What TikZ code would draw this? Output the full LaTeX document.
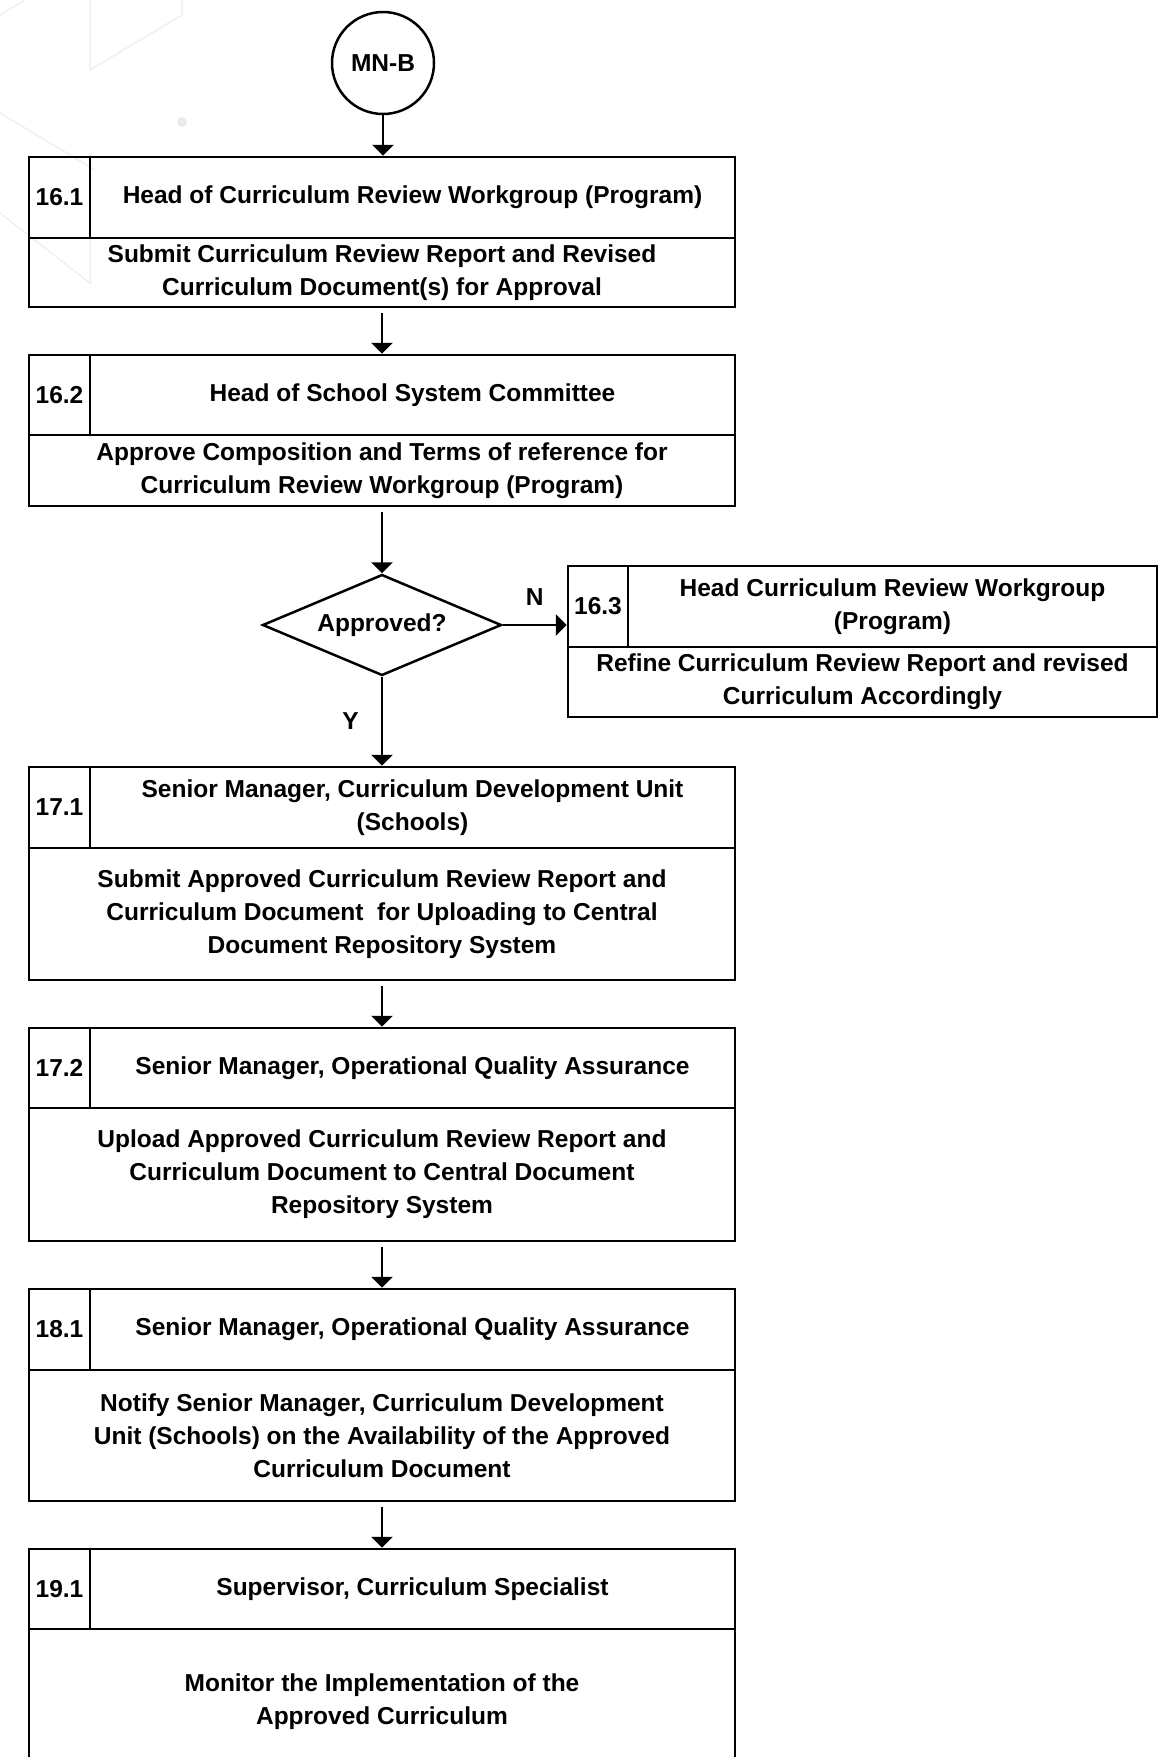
\documentclass[tikz,border=0pt]{standalone}
\usepackage{fontspec}
\setmainfont{Liberation Sans}
\usetikzlibrary{shapes.geometric, arrows.meta}

\begin{document}
\begin{tikzpicture}[x=1pt, y=-1pt, line width=2.5pt,
    every node/.style={font=\bfseries\fontsize{24.5}{33}\selectfont, align=center, inner sep=0pt},
    numcell/.style={draw, minimum width=61pt, minimum height=#1},
    headcell/.style={draw, minimum width=645pt, minimum height=#1},
    taskcell/.style={draw, minimum width=706pt, minimum height=#1},
    flow/.style={-{Triangle[width=21pt, length=11pt]}},
    backline/.style={gray!12, line width=1.5pt}]

     \useasboundingbox (0,0) rectangle (1169,1757);
     \clip (0,0) rectangle (1169,1757);

     % faint background
     \draw [backline] (0,15) -- (25,0);
     \draw [backline] (90,0) -- (90,70) -- (182,15) -- (182,0);
     \fill [gray!15] (182,122) circle (5);
     \draw [backline] (0,113) -- (95,170);
     \draw [backline] (0,213) -- (90,283) -- (90,233);

     \node (start) at (383,63) [draw, circle, minimum size=102pt] {MN-B};

     \node (num161) at (59.5,197.5) [numcell=81pt] {16.1};
     \node (head161) at (412.5,197.5) [headcell=81pt] {Head of Curriculum Review Workgroup (Program)};
     \node (task161) at (382,272.5) [taskcell=69pt] {Submit Curriculum Review Report and Revised\\Curriculum Document(s) for Approval};

     \node (num162) at (59.5,395) [numcell=80pt] {16.2};
     \node (head162) at (412.5,395) [headcell=80pt] {Head of School System Committee};
     \node (task162) at (382,470.5) [taskcell=71pt] {Approve Composition and Terms of reference for\\Curriculum Review Workgroup (Program)};

     \node (check) at (382,625) [draw, diamond, aspect=2.4, minimum width=239pt, minimum height=101pt] {Approved?};

     \node (num163) at (598,606.5) [numcell=81pt, minimum width=60pt] {16.3};
     \node (head163) at (892.5,606.5) [headcell=81pt, minimum width=529pt] {Head Curriculum Review Workgroup\\(Program)};
     \node (task163) at (862.5,682) [taskcell=70pt, minimum width=589pt] {Refine Curriculum Review Report and revised\\Curriculum Accordingly};

     \node (num171) at (59.5,807.5) [numcell=81pt] {17.1};
     \node (head171) at (412.5,807.5) [headcell=81pt] {Senior Manager, Curriculum Development Unit\\(Schools)};
     \node (task171) at (382,914) [taskcell=132pt] {Submit Approved Curriculum Review Report and\\Curriculum Document~ for Uploading to Central\\Document Repository System};

     \node (num172) at (59.5,1068) [numcell=80pt] {17.2};
     \node (head172) at (412.5,1068) [headcell=80pt] {Senior Manager, Operational Quality Assurance};
     \node (task172) at (382,1174.5) [taskcell=133pt] {Upload Approved Curriculum Review Report and\\Curriculum Document to Central Document\\Repository System};

     \node (num181) at (59.5,1329.5) [numcell=81pt] {18.1};
     \node (head181) at (412.5,1329.5) [headcell=81pt] {Senior Manager, Operational Quality Assurance};
     \node (task181) at (382,1435.5) [taskcell=131pt] {Notify Senior Manager, Curriculum Development\\Unit (Schools) on the Availability of the Approved\\Curriculum Document};

     \node (num191) at (59.5,1589) [numcell=80pt] {19.1};
     \node (head191) at (412.5,1589) [headcell=80pt] {Supervisor, Curriculum Specialist};
     \node (task191) at (382,1702) [taskcell=146pt] {Monitor the Implementation of the\\Approved Curriculum};

     \draw [flow] (start) -- (start |- head161.north);
     \draw [flow, shorten <=5pt] (task161) -- (task161.south |- head162.north);
     \draw [flow, shorten <=5pt] (task162) -- (check);
     \draw [flow] (check) to [edge node={node [above=18pt] {N}}] (check.east -| num163.west);
     \draw [flow] (check) to [edge node={node [left=22pt] {Y}}] (check.south |- head171.north);
     \draw [flow, shorten <=5pt] (task171) -- (task171.south |- head172.north);
     \draw [flow, shorten <=5pt] (task172) -- (task172.south |- head181.north);
     \draw [flow, shorten <=5pt] (task181) -- (task181.south |- head191.north);

\end{tikzpicture}
\end{document}
